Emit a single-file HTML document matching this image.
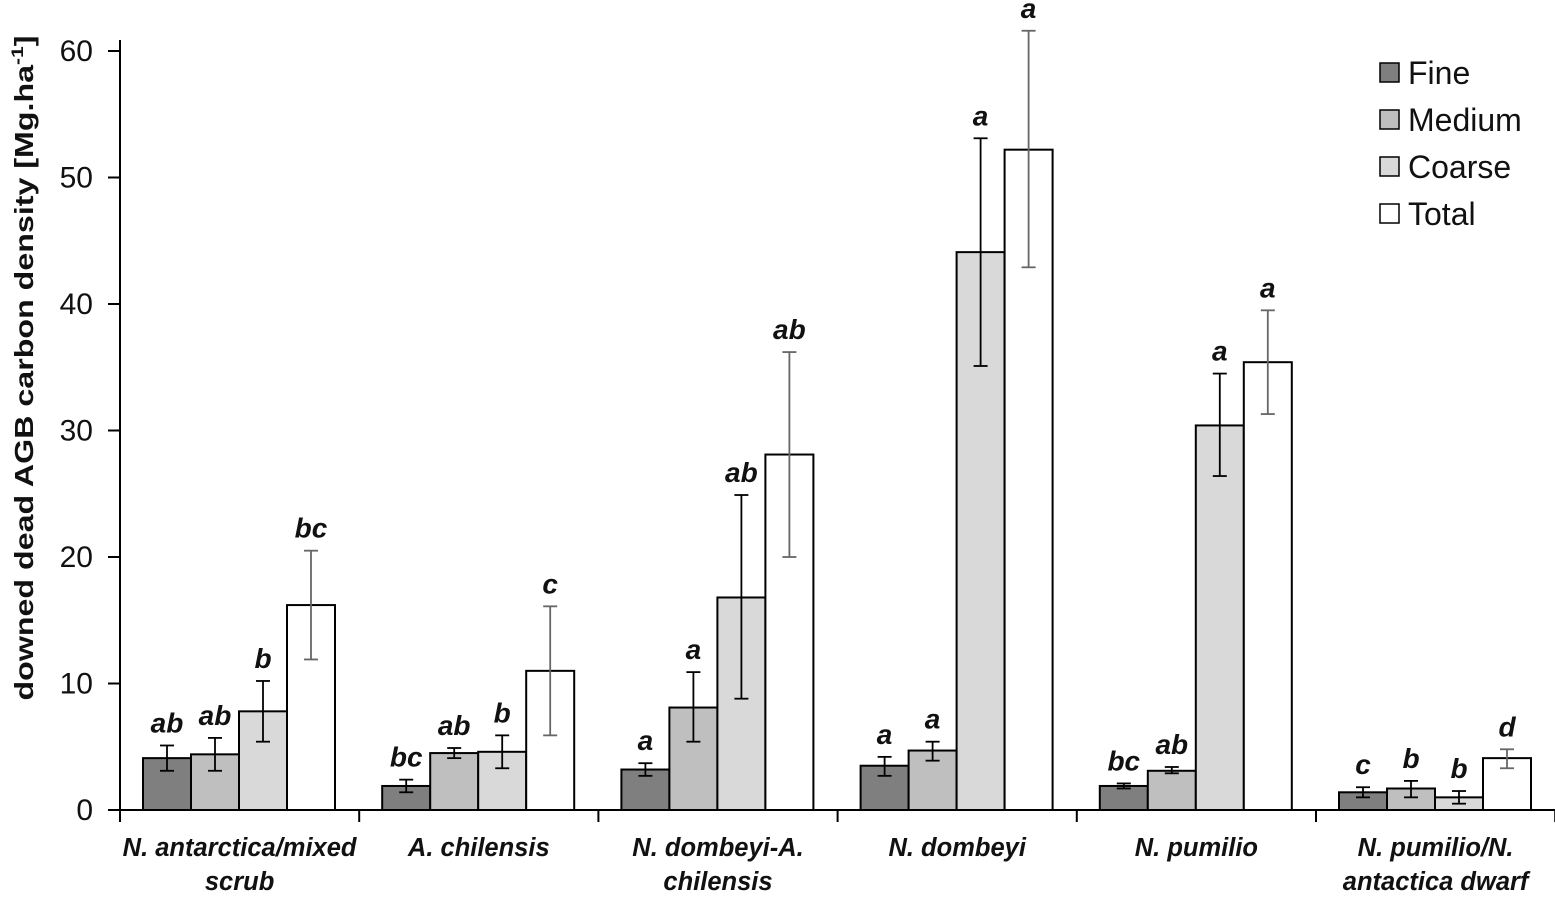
<!DOCTYPE html>
<html><head><meta charset="utf-8"><style>
html,body{margin:0;padding:0;background:#fff}
svg{display:block;font-family:"Liberation Sans","DejaVu Sans",sans-serif}
</style></head><body>
<svg id="c" width="1555" height="903" xmlns="http://www.w3.org/2000/svg"></svg>
<script>
const s=document.getElementById('c');let h='';
const Y=v=>810-12.65*v;
h+='<line x1="120" y1="40" x2="120" y2="810" stroke="#000" stroke-width="2"/>';
for(let v=0;v<=60;v+=10){const y=Y(v);h+=`<line x1="108" y1="${y}" x2="120" y2="${y}" stroke="#000" stroke-width="2"/><text x="93" y="${y+10}" font-size="30" text-anchor="end" fill="#111">${v}</text>`;}
h+='<line x1="108" y1="810" x2="1555" y2="810" stroke="#000" stroke-width="2"/>';
for(let i=0;i<=6;i++){const x=120+i*239.2;h+=`<line x1="${x}" y1="810" x2="${x}" y2="822" stroke="#000" stroke-width="2"/>`;}
h+='<text transform="translate(33,368) rotate(-90)" font-size="26" font-weight="bold" text-anchor="middle" fill="#111" textLength="665" lengthAdjust="spacingAndGlyphs">downed dead AGB carbon density [Mg.ha<tspan dy="-10" font-size="17">-1</tspan><tspan dy="10">]</tspan></text>';
const cols=['#7f7f7f','#bfbfbf','#d9d9d9','#ffffff'];
const D=[
[[4.1,3.1,5.1,'ab'],[4.4,3.1,5.7,'ab'],[7.8,5.4,10.2,'b'],[16.2,11.9,20.5,'bc']],
[[1.9,1.4,2.4,'bc'],[4.5,4.1,4.9,'ab'],[4.6,3.3,5.9,'b'],[11.0,5.9,16.1,'c']],
[[3.2,2.7,3.7,'a'],[8.1,5.4,10.9,'a'],[16.8,8.8,24.9,'ab'],[28.1,20.0,36.2,'ab']],
[[3.5,2.7,4.2,'a'],[4.7,3.9,5.4,'a'],[44.1,35.1,53.1,'a'],[52.2,42.9,61.6,'a']],
[[1.9,1.7,2.1,'bc'],[3.1,2.9,3.4,'ab'],[30.4,26.4,34.5,'a'],[35.4,31.3,39.5,'a']],
[[1.4,1.0,1.8,'c'],[1.7,1.0,2.3,'b'],[1.0,0.5,1.5,'b'],[4.1,3.3,4.8,'d']]];
const L=[['N. antarctica/mixed','scrub'],['A. chilensis'],['N. dombeyi-A.','chilensis'],['N. dombeyi'],['N. pumilio'],['N. pumilio/N.','antactica dwarf']];
D.forEach((g,i)=>{const gx=120+i*239.2;
g.forEach((b,j)=>{const x=gx+23+j*48,cx=x+24,ec=j==3?'#666':'#000';
h+=`<rect x="${x}" y="${Y(b[0])}" width="48" height="${810-Y(b[0])}" fill="${cols[j]}" stroke="#000" stroke-width="2"/>`;
h+=`<line x1="${cx}" y1="${Y(b[1])}" x2="${cx}" y2="${Y(b[2])}" stroke="${ec}" stroke-width="1.8"/><line x1="${cx-7}" y1="${Y(b[1])}" x2="${cx+7}" y2="${Y(b[1])}" stroke="${ec}" stroke-width="1.8"/><line x1="${cx-7}" y1="${Y(b[2])}" x2="${cx+7}" y2="${Y(b[2])}" stroke="${ec}" stroke-width="1.8"/>`;
h+=`<text x="${cx}" y="${Y(b[2])-13}" font-size="28" font-weight="bold" font-style="italic" text-anchor="middle" fill="#111">${b[3]}</text>`;});
const lx=gx+119.6;L[i].forEach((t,k)=>{h+=`<text x="${lx}" y="${856+k*34}" font-size="25.5" font-weight="bold" font-style="italic" text-anchor="middle" fill="#111">${t}</text>`;});
});
['Fine','Medium','Coarse','Total'].forEach((t,k)=>{const y=63+k*47;
h+=`<rect x="1380" y="${y}" width="19" height="19" fill="${cols[k]}" stroke="#000" stroke-width="1.5"/><text x="1408" y="${y+21}" font-size="32" fill="#111">${t}</text>`;});
s.innerHTML=h;
</script>
</body></html>
